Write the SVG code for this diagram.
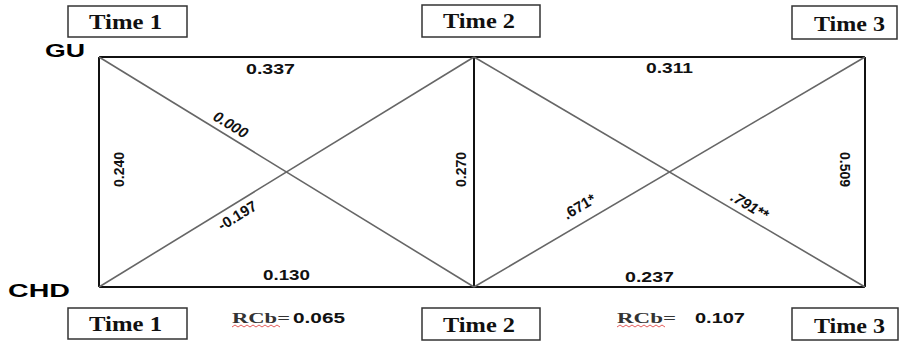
<svg xmlns="http://www.w3.org/2000/svg" width="903" height="342" viewBox="0 0 903 342">
<style>
.box{fill:#fff;stroke:#333;stroke-width:1.5}
.tm{font-family:"Liberation Serif","Times New Roman",serif;font-weight:bold;font-size:20px;fill:#111}
.side{font-family:"Liberation Sans",Arial,sans-serif;font-weight:bold;font-size:19px;fill:#000}
.edge{stroke:#111;stroke-width:2;fill:none}
.diag{stroke:#666;stroke-width:1.6;fill:none}
.lbl{font-family:"Liberation Sans",Arial,sans-serif;font-weight:bold;font-size:14px;fill:#111}
.dl{font-size:15px}
.rcb{font-family:"Liberation Serif","Times New Roman",serif;font-weight:bold;font-size:15px;fill:#333}
.sq{stroke:#d33;stroke-width:0.8;fill:none}
</style>
<rect width="903" height="342" fill="#fff"/>
<g id="time1-top"><rect class="box" x="68" y="6" width="119" height="31"/><text class="tm" x="89" y="29" textLength="73" lengthAdjust="spacingAndGlyphs">Time 1</text></g>
<g id="time2-top"><rect class="box" x="422" y="5" width="118" height="32"/><text class="tm" x="443" y="28" textLength="72" lengthAdjust="spacingAndGlyphs">Time 2</text></g>
<g id="time3-top"><rect class="box" x="792" y="6" width="105" height="33"/><text class="tm" x="814" y="31" textLength="71" lengthAdjust="spacingAndGlyphs">Time 3</text></g>
<g id="time1-bottom"><rect class="box" x="68" y="308" width="119" height="31"/><text class="tm" x="89" y="331" textLength="73" lengthAdjust="spacingAndGlyphs">Time 1</text></g>
<g id="time2-bottom"><rect class="box" x="422" y="308" width="118" height="32"/><text class="tm" x="443" y="332" textLength="72" lengthAdjust="spacingAndGlyphs">Time 2</text></g>
<g id="time3-bottom"><rect class="box" x="792" y="308" width="106" height="32"/><text class="tm" x="814" y="333" textLength="71" lengthAdjust="spacingAndGlyphs">Time 3</text></g>
<g id="gu"><text class="side" x="45" y="57" textLength="40" lengthAdjust="spacingAndGlyphs">GU</text></g>
<g id="chd"><text class="side" x="8" y="297" textLength="62" lengthAdjust="spacingAndGlyphs">CHD</text></g>
<g id="connectors">
<line class="edge" x1="99" y1="57" x2="865" y2="57"/>
<line class="edge" x1="99" y1="287" x2="865" y2="287"/>
<line class="edge" x1="99" y1="57" x2="99" y2="287"/>
<line class="edge" x1="474" y1="57" x2="474" y2="287" stroke="#444"/>
<line class="edge" x1="865" y1="57" x2="865" y2="287"/>
<line class="diag" x1="99" y1="57" x2="474" y2="287"/>
<line class="diag" x1="99" y1="287" x2="474" y2="57"/>
<line class="diag" x1="474" y1="57" x2="865" y2="287"/>
<line class="diag" x1="474" y1="287" x2="865" y2="57"/>
<text class="lbl" x="246" y="74" textLength="49" lengthAdjust="spacingAndGlyphs">0.337</text>
<text class="lbl" x="646" y="73" textLength="47" lengthAdjust="spacingAndGlyphs">0.311</text>
<text class="lbl" x="263" y="280" textLength="47" lengthAdjust="spacingAndGlyphs">0.130</text>
<text class="lbl" x="625" y="282" textLength="49" lengthAdjust="spacingAndGlyphs">0.237</text>
<text class="lbl" text-anchor="middle" transform="translate(123.5,169.5) rotate(-90)">0.240</text>
<text class="lbl" text-anchor="middle" transform="translate(465.5,169.5) rotate(-90)">0.270</text>
<text class="lbl" text-anchor="middle" transform="translate(840,169.5) rotate(90)">0.509</text>
<text class="lbl dl" font-style="italic" text-anchor="middle" transform="translate(228,129) rotate(31.5)">0.000</text>
<text class="lbl dl" text-anchor="middle" transform="translate(240,220) rotate(-31.5)">-0.197</text>
<text class="lbl dl" text-anchor="middle" transform="translate(582,211) rotate(-30.5)">.671*</text>
<text class="lbl dl" font-style="italic" text-anchor="middle" transform="translate(747,210) rotate(30.5)">.791**</text>
</g>
<g id="rcb1">
<text class="rcb" x="232" y="323" textLength="58" lengthAdjust="spacingAndGlyphs">RCb=</text>
<text class="lbl" x="293" y="323" textLength="52" lengthAdjust="spacingAndGlyphs">0.065</text>
<path class="sq" d="M232 327 l3 -2 l3 2 l3 -2 l3 2 l3 -2 l3 2 l3 -2 l3 2 l3 -2 l3 2 l3 -2 l3 2 l3 -2 l3 2 l3 -2 l3 2"/>
</g>
<g id="rcb2">
<text class="rcb" x="617" y="323" textLength="59" lengthAdjust="spacingAndGlyphs">RCb=</text>
<text class="lbl" x="695" y="323" textLength="50" lengthAdjust="spacingAndGlyphs">0.107</text>
<path class="sq" d="M617 327 l3 -2 l3 2 l3 -2 l3 2 l3 -2 l3 2 l3 -2 l3 2 l3 -2 l3 2 l3 -2 l3 2 l3 -2 l3 2 l3 -2 l3 2"/>
</g>
</svg>
